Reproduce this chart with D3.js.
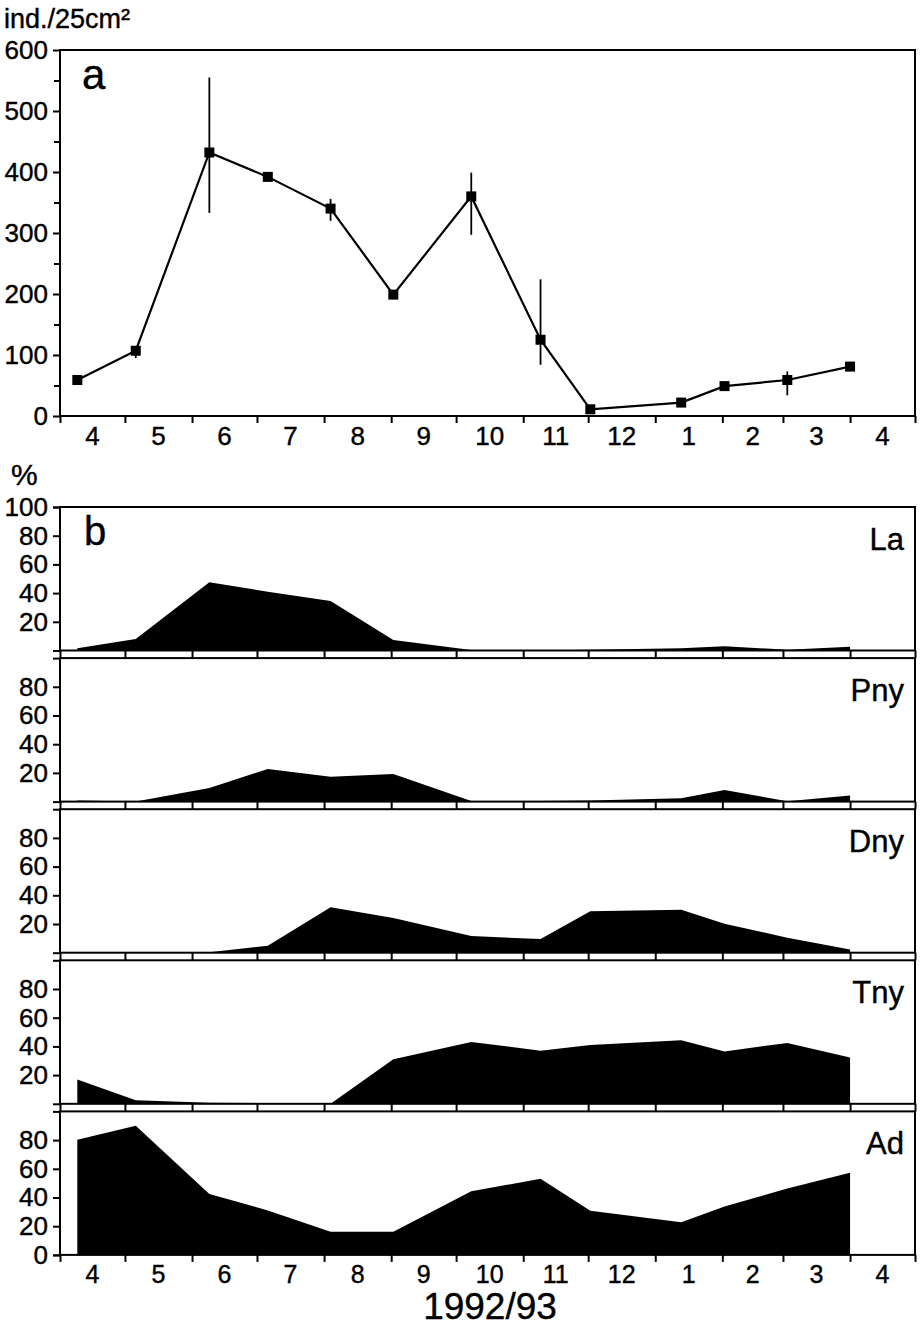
<!DOCTYPE html>
<html>
<head>
<meta charset="utf-8">
<script src="https://cdn.jsdelivr.net/npm/d3@7"></script>
<style>
  body { margin: 0; background: #fff; }
  text { font-family: "Liberation Sans", Arial, sans-serif; fill: #000; stroke: #000; stroke-width: 0.4px; }
</style>
</head>
<body>
<div id="chart"></div>
<script>
// sampling dates 1992/93
var sampleDates = ["1992-04-09", "1992-05-06", "1992-06-09", "1992-07-06", "1992-08-04", "1992-09-02",
  "1992-10-08", "1992-11-09", "1992-12-02", "1993-01-13", "1993-02-02", "1993-03-03", "1993-04-01"];

// panel a: density, ind./25cm2
var density = [59, 107, 432, 392, 340, 199, 360, 125, 11, 22, 49, 59, 81];
var errUp   = [0, 4, 123, 6, 16, 5, 39, 99, 0, 0, 5, 14, 0];
var errDown = [0, 12, 99, 6, 20, 5, 63, 41, 0, 0, 5, 25, 0];

// panel b: stage composition, %
var stages = ["La", "Pny", "Dny", "Tny", "Ad"];
var pctLa  = [1.5, 8, 47.5, 41, 34.5, 7.3, 0.3, 0, 0.5, 1.5, 3, 0.5, 2.6];
var pctPny = [0.7, 0, 9.5, 22.8, 17.4, 19.3, 0.5, 0.5, 0.8, 2.3, 8.1, 0.3, 4.2];
var pctDny = [0, 0, 0.3, 4.9, 31.6, 24.1, 11.6, 9.5, 28.8, 30, 20.1, 10.5, 2.2];
var pctTny = [17, 2.4, 0.8, 0.5, 0, 31.1, 43.1, 37, 41, 44.3, 36.5, 42.4, 32.3];
var pctAd  = [80.3, 90, 42.4, 31, 16.2, 16.2, 44.3, 53, 30.7, 22.7, 33.8, 46.2, 57.3];
var stageValues = [pctLa, pctPny, pctDny, pctTny, pctAd];

var densityTicks = [0, 100, 200, 300, 400, 500, 600];
var densityMinor = [50, 150, 250, 350, 450, 550];
var pctTickLabels = [[20, 40, 60, 80, 100], [20, 40, 60, 80], [20, 40, 60, 80], [20, 40, 60, 80], [0, 20, 40, 60, 80]];

var width = 921, height = 1329;
var parse = d3.timeParse("%Y-%m-%d");
var dates = sampleDates.map(parse);

var svg = d3.select("#chart").append("svg")
    .attr("width", width)
    .attr("height", height);

var x = d3.scaleTime()
    .domain([new Date(1992, 3, 1), new Date(1993, 4, 1)])
    .range([60, 915]);
var months = d3.timeMonth.range(new Date(1992, 3, 1), new Date(1993, 4, 1));
function midMonth(d) {
  return (x(d) + x(d3.timeMonth.offset(d, 1))) / 2;
}

function styleAxis(g) {
  g.select(".domain").remove();
  g.selectAll(".tick line").attr("stroke", "#000").attr("stroke-width", 2);
  g.selectAll(".tick text").attr("font-size", 26).attr("font-family", "Liberation Sans, Arial");
}

// ---------- panel a ----------
var ya = d3.scaleLinear().domain([0, 600]).range([416, 50]);

svg.append("text").attr("x", 4).attr("y", 28).attr("font-size", 27)
  .text("ind./25cm²");

svg.append("g").attr("transform", "translate(60,0)")
  .call(d3.axisLeft(ya).tickValues(densityTicks).tickSize(7).tickPadding(5))
  .call(styleAxis);
svg.append("g").attr("transform", "translate(60,0)")
  .call(d3.axisLeft(ya).tickValues(densityMinor).tickSize(6).tickFormat(""))
  .call(styleAxis);

svg.append("g").attr("transform", "translate(0,416)")
  .call(d3.axisBottom(x).ticks(d3.timeMonth.every(1)).tickSize(7).tickFormat(""))
  .call(styleAxis);

svg.append("g").selectAll("text")
  .data(months)
  .enter().append("text")
  .attr("x", midMonth)
  .attr("y", 445)
  .attr("text-anchor", "middle")
  .attr("font-size", 26)
  .text(function(d) { return d.getMonth() + 1; });

svg.append("rect")
  .attr("x", 60).attr("y", ya(600))
  .attr("width", 855).attr("height", ya(0) - ya(600))
  .attr("fill", "none").attr("stroke", "#000").attr("stroke-width", 2);

svg.append("text").attr("x", 82).attr("y", 89).attr("font-size", 42).text("a");

var line = d3.line()
  .x(function(d, i) { return x(dates[i]); })
  .y(function(d) { return ya(d); });

svg.append("path")
  .datum(density)
  .attr("d", line)
  .attr("fill", "none")
  .attr("stroke", "#000")
  .attr("stroke-width", 2.2);

svg.append("g").selectAll("line")
  .data(density)
  .enter().append("line")
  .attr("x1", function(d, i) { return x(dates[i]); })
  .attr("x2", function(d, i) { return x(dates[i]); })
  .attr("y1", function(d, i) { return ya(d + errUp[i]); })
  .attr("y2", function(d, i) { return ya(d - errDown[i]); })
  .attr("stroke", "#000")
  .attr("stroke-width", 1.8);

svg.append("g").selectAll("rect")
  .data(density)
  .enter().append("rect")
  .attr("x", function(d, i) { return x(dates[i]) - 5; })
  .attr("y", function(d) { return ya(d) - 5; })
  .attr("width", 10)
  .attr("height", 10)
  .attr("fill", "#000");

// ---------- panel b ----------
var base0 = 650.5, panelH = 143.5, step = 151.1;

svg.append("text").attr("x", 11).attr("y", 485).attr("font-size", 30).text("%");

stages.forEach(function(name, k) {
  var base = base0 + k * step;
  var y = d3.scaleLinear().domain([0, 100]).range([base, base - panelH]);
  var vals = stageValues[k];

  var area = d3.area()
    .x(function(d, i) { return x(dates[i]); })
    .y0(base)
    .y1(function(d) { return y(d); });

  svg.append("path")
    .datum(vals)
    .attr("d", area)
    .attr("fill", "#000");

  // y axis labels and unlabeled 0/100 ticks
  svg.append("g").attr("transform", "translate(60,0)")
    .call(d3.axisLeft(y).tickValues(pctTickLabels[k]).tickSize(7).tickPadding(5))
    .call(styleAxis);
  svg.append("g").attr("transform", "translate(60,0)")
    .call(d3.axisLeft(y).tickValues([0, 100]).tickSize(7).tickFormat(""))
    .call(styleAxis);

  // month ticks along the panel bottom
  var tickLen = k < stages.length - 1 ? step - panelH : 7;
  svg.append("g").attr("transform", "translate(0," + base + ")")
    .call(d3.axisBottom(x).ticks(d3.timeMonth.every(1)).tickSize(tickLen).tickFormat(""))
    .call(styleAxis);

  svg.append("rect")
    .attr("x", 60).attr("y", y(100))
    .attr("width", 855).attr("height", panelH)
    .attr("fill", "none").attr("stroke", "#000").attr("stroke-width", 2);

  svg.append("text")
    .attr("x", 904).attr("y", y(100) + 43)
    .attr("text-anchor", "end")
    .attr("font-size", 31)
    .text(name);

  if (k == 0) {
    svg.append("text").attr("x", 84).attr("y", 545).attr("font-size", 40).text("b");
  }
});

var baseAd = base0 + (stages.length - 1) * step;

svg.append("g").selectAll("text")
  .data(months)
  .enter().append("text")
  .attr("x", midMonth)
  .attr("y", baseAd + 28)
  .attr("text-anchor", "middle")
  .attr("font-size", 25)
  .text(function(d) { return d.getMonth() + 1; });

svg.append("text")
  .attr("x", 490).attr("y", 1319)
  .attr("text-anchor", "middle")
  .attr("font-size", 37)
  .text("1992/93");
</script>
</body>
</html>
